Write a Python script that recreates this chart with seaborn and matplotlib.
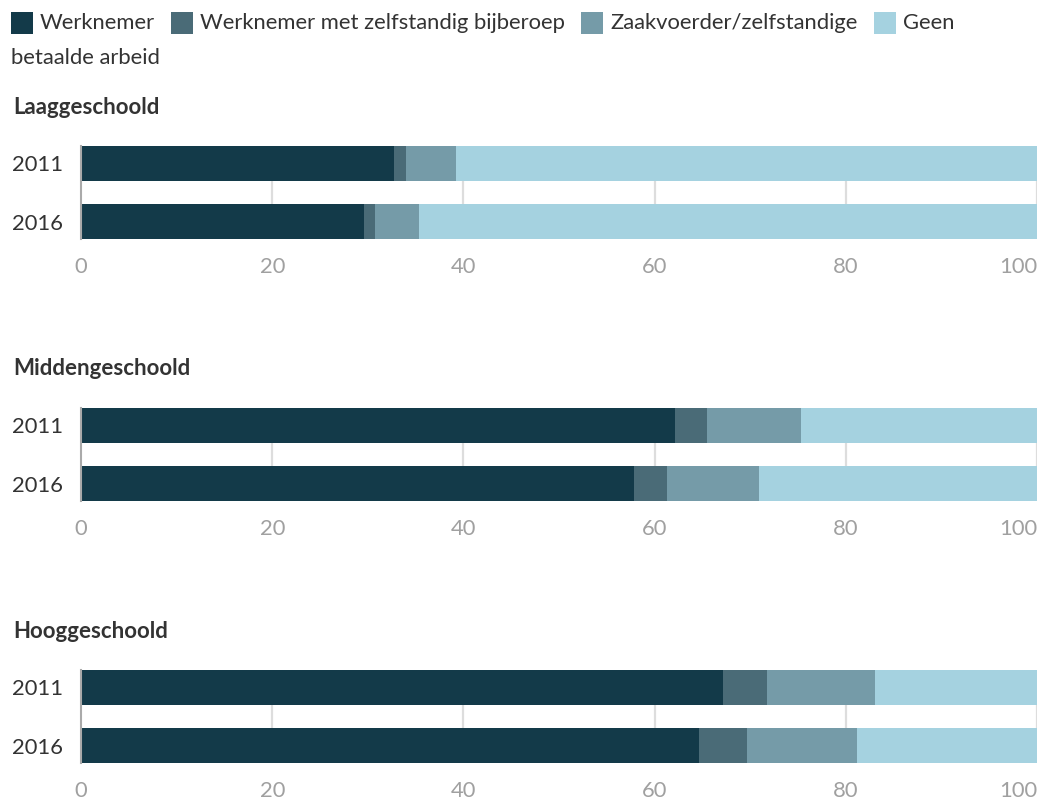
import matplotlib
matplotlib.use("Agg")
import matplotlib.pyplot as plt
from matplotlib.patches import Rectangle
import seaborn as sns
import pandas as pd
import numpy as np

sns.set_style("white")
plt.rcParams['font.family'] = ['Lato', 'DejaVu Sans']

groups = ["Laaggeschoold", "Middengeschoold", "Hooggeschoold"]
years = ["2011", "2016"]
series = ["Werknemer", "Werknemer met zelfstandig bijberoep", "Zaakvoerder/zelfstandige", "Geen betaalde arbeid"]
colors = ["#133a49", "#4a6b77", "#759ba8", "#a5d2e0"]
xticks = [0, 20, 40, 60, 80, 100]

werknemer = [[32.7, 29.6], [62.1, 57.8], [67.2, 64.6]]
bijberoep = [[1.3, 1.2], [3.4, 3.5], [4.6, 5.1]]
zaakvoerder = [[5.2, 4.6], [9.8, 9.6], [11.3, 11.5]]
geen = [[60.8, 64.6], [24.7, 29.1], [16.9, 18.8]]

W, H = 1040, 800
fig = plt.figure(figsize=(W / 100, H / 100), dpi=100)

def fx(px):
    return px / W

def fy(py):
    return 1 - py / H

ax_left, ax_right = 81, 1037
panel_tops = [146, 408, 670]
axes_h = 93
title_y = [107, 369, 632]

for gi, g in enumerate(groups):
    top = panel_tops[gi]
    ax = fig.add_axes([fx(ax_left), fy(top + axes_h), fx(ax_right - ax_left), axes_h / H])
    df = pd.DataFrame({
        "year": years,
        series[0]: werknemer[gi],
        series[1]: bijberoep[gi],
        series[2]: zaakvoerder[gi],
        series[3]: geen[gi],
    })
    cum = df[series].cumsum(axis=1)
    for si in range(len(series) - 1, -1, -1):
        sns.barplot(data=cum.assign(year=df["year"]), x=series[si], y="year",
                    color=colors[si], width=0.6, ax=ax, saturation=1, zorder=3,
                    linewidth=0, edgecolor="none")
    ax.set_xlim(0, 100)
    ax.set_ylim(1.3, -0.3)
    ax.set_xticks(xticks)
    ax.set_xticklabels([str(v) for v in xticks])
    ax.set_xlabel("")
    ax.set_ylabel("")
    for x in xticks[1:]:
        ax.axvline(x, color="#dddddd", lw=1.6, zorder=1)
    for s in ["top", "right", "bottom"]:
        ax.spines[s].set_visible(False)
    ax.spines["left"].set_color("#aaaaaa")
    ax.spines["left"].set_linewidth(1.5)
    ax.spines["left"].set_zorder(4)
    ax.tick_params(axis="x", length=0, labelsize=15.8, labelcolor="#a0a0a0", pad=13)
    ax.tick_params(axis="y", length=0, labelsize=15.8, labelcolor="#333333", pad=13)
    ax.get_xticklabels()[-1].set_horizontalalignment("right")
    fig.text(fx(13), fy(title_y[gi]), g, fontsize=16, fontweight="bold", color="#333333",
             va="center", ha="left")

# Legend laid out like wrapped inline HTML
fig.canvas.draw()
renderer = fig.canvas.get_renderer()
x = 11
line1_y = 23
sq = 22
labels_line1 = ["Werknemer", "Werknemer met zelfstandig bijberoep", "Zaakvoerder/zelfstandige", "Geen"]
for i, lab in enumerate(labels_line1):
    fig.patches.append(Rectangle((fx(x), fy(line1_y + sq / 2)), sq / W, sq / H,
                                 transform=fig.transFigure, facecolor=colors[i], edgecolor="none"))
    t = fig.text(fx(x + sq + 7), fy(line1_y), lab, fontsize=15.8, color="#333333", va="center", ha="left")
    bb = t.get_window_extent(renderer)
    x = x + sq + 7 + bb.width + 16
fig.text(fx(11), fy(58), "betaalde arbeid", fontsize=15.8, color="#333333", va="center", ha="left")

fig.savefig("out.png", dpi=100)
